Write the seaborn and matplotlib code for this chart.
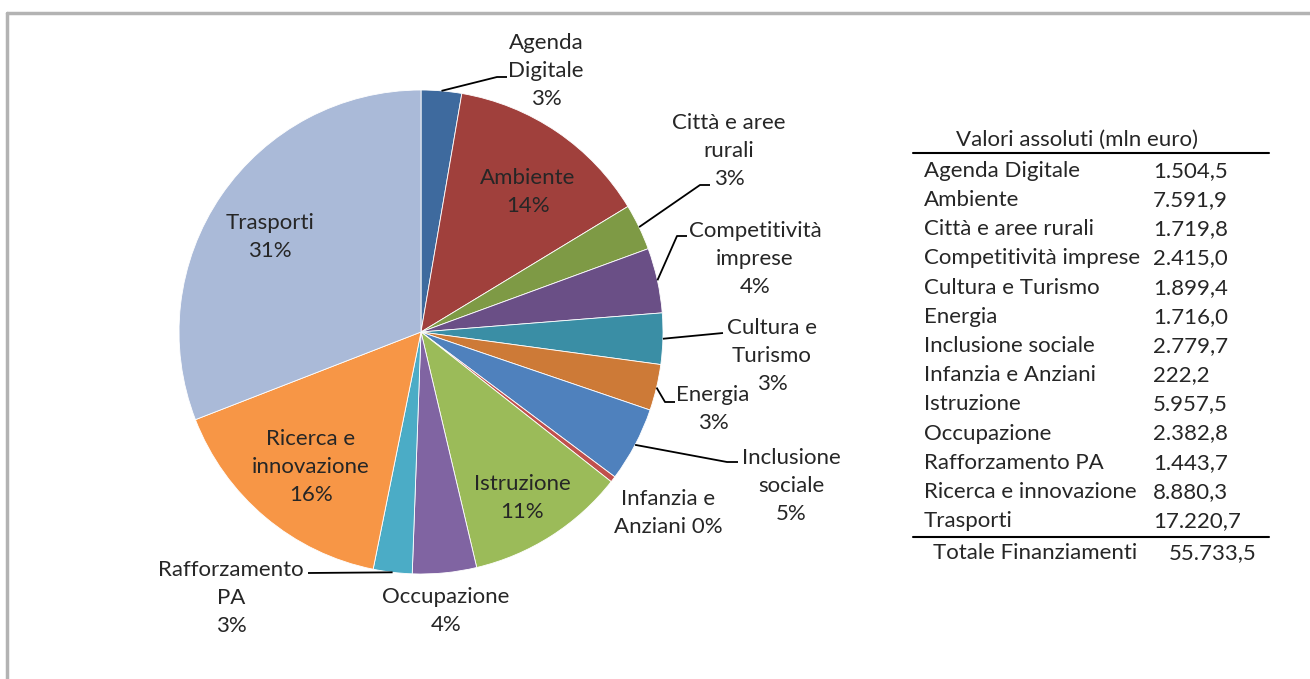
import numpy as np
import matplotlib
matplotlib.use("Agg")
import matplotlib.pyplot as plt
from matplotlib.lines import Line2D
import seaborn as sns

categories = ["Agenda Digitale", "Ambiente", "Città e aree rurali", "Competitività imprese",
              "Cultura e Turismo", "Energia", "Inclusione sociale", "Infanzia e Anziani",
              "Istruzione", "Occupazione", "Rafforzamento PA", "Ricerca e innovazione",
              "Trasporti"]
values = [1504.5, 7591.9, 1719.8, 2415.0, 1899.4, 1716.0, 2779.7, 222.2,
          5957.5, 2382.8, 1443.7, 8880.3, 17220.7]
colors = ["#3E6A9E", "#A0403C", "#7E9A45", "#6A4F86", "#3A8EA5", "#CD7A37", "#4F81BD",
          "#C0504D", "#9BBB59", "#8064A2", "#4BACC6", "#F79646", "#AABAD8"]

# label text, wrapping as in the chart
label_text = {
    "Agenda Digitale": "Agenda\nDigitale\n{p}%",
    "Ambiente": "Ambiente\n{p}%",
    "Città e aree rurali": "Città e aree\nrurali\n{p}%",
    "Competitività imprese": "Competitività\nimprese\n{p}%",
    "Cultura e Turismo": "Cultura e\nTurismo\n{p}%",
    "Energia": "Energia\n{p}%",
    "Inclusione sociale": "Inclusione\nsociale\n{p}%",
    "Infanzia e Anziani": "Infanzia e\nAnziani {p}%",
    "Istruzione": "Istruzione\n{p}%",
    "Occupazione": "Occupazione\n{p}%",
    "Rafforzamento PA": "Rafforzamento\nPA\n{p}%",
    "Ricerca e innovazione": "Ricerca e\ninnovazione\n{p}%",
    "Trasporti": "Trasporti\n{p}%",
}

W, H = 1310, 679
CX, CY, R = 421, 332, 242

# label centres (pixels)
label_pos = {
    "Agenda Digitale": (546, 71), "Ambiente": (528, 192), "Città e aree rurali": (729, 151),
    "Competitività imprese": (755, 259), "Cultura e Turismo": (772, 356),
    "Energia": (713, 409), "Inclusione sociale": (791, 486), "Infanzia e Anziani": (668, 513),
    "Istruzione": (522, 498), "Occupazione": (446, 611), "Rafforzamento PA": (231, 598),
    "Ricerca e innovazione": (311, 467), "Trasporti": (270, 237),
}
# leader lines: knee and end points (pixels)
leaders = {
    "Agenda Digitale": [(497, 77), (507, 77)],
    "Città e aree rurali": [(700, 185), (710, 185)],
    "Competitività imprese": [(677, 236), (687, 236)],
    "Cultura e Turismo": [(723, 333)],
    "Energia": [(665, 402), (675, 402)],
    "Inclusione sociale": [(727, 462), (738, 462)],
    "Rafforzamento PA": [(308, 573)],
}


def px(x, y):
    return (x - CX) / R, (CY - y) / R


def it_num(v):
    return f"{v:,.1f}".replace(",", "X").replace(".", ",").replace("X", ".")


sns.set_theme(style="white")
plt.rcParams['font.family'] = ['Lato', 'DejaVu Sans']
txt_color = "#262626"
fs = 16

fig = plt.figure(figsize=(W / 100, H / 100), dpi=100)
ax = fig.add_axes([0, 0, 1, 1])
wedges, _ = ax.pie(values, colors=colors, startangle=90, counterclock=False,
                   wedgeprops=dict(linewidth=0.6, edgecolor="white"))
ax.set_xlim(-CX / R, (W - CX) / R)
ax.set_ylim((CY - H) / R, CY / R)
ax.set_aspect("equal")
ax.axis("off")

total = sum(values)
for name, v, w in zip(categories, values, wedges):
    p = int(round(v / total * 100))
    tx, ty = px(*label_pos[name])
    ax.text(tx, ty, label_text[name].format(p=p), ha="center", va="center",
            fontsize=fs, color=txt_color, linespacing=1.47)
    if name in leaders:
        ang = np.deg2rad((w.theta1 + w.theta2) / 2)
        pts = [(np.cos(ang), np.sin(ang))] + [px(*q) for q in leaders[name]]
        xs, ys = zip(*pts)
        ax.plot(xs, ys, color="black", lw=1.3, solid_capstyle="butt")

# table on the right
fig.text(1077 / W, 1 - 140 / H, "Valori assoluti (mln euro)", ha="center", va="center",
         fontsize=fs, color=txt_color)
fig.add_artist(Line2D([913 / W, 1269 / W], [1 - 153 / H] * 2, color="black", lw=1.5))
row_y = np.linspace(171, 521, len(categories))
for name, v, y in zip(categories, values, row_y):
    fig.text(924 / W, 1 - y / H, name, ha="left", va="center", fontsize=fs, color=txt_color)
    fig.text(1153 / W, 1 - y / H, it_num(v), ha="left", va="center", fontsize=fs,
             color=txt_color)
fig.add_artist(Line2D([913 / W, 1269 / W], [1 - 537 / H] * 2, color="black", lw=1.5))
fig.text(933 / W, 1 - 553 / H, "Totale Finanziamenti", ha="left", va="center",
         fontsize=fs, color=txt_color)
fig.text(1169 / W, 1 - 553 / H, it_num(total), ha="left", va="center", fontsize=fs,
         color=txt_color)

# grey frame
fig.add_artist(Line2D([7 / W, 7 / W], [0, 1 - 13 / H], color="#B3B3B3", lw=2.5))
fig.add_artist(Line2D([7 / W, 1], [1 - 13 / H] * 2, color="#B3B3B3", lw=2.5))

fig.savefig("out.png", dpi=100)
